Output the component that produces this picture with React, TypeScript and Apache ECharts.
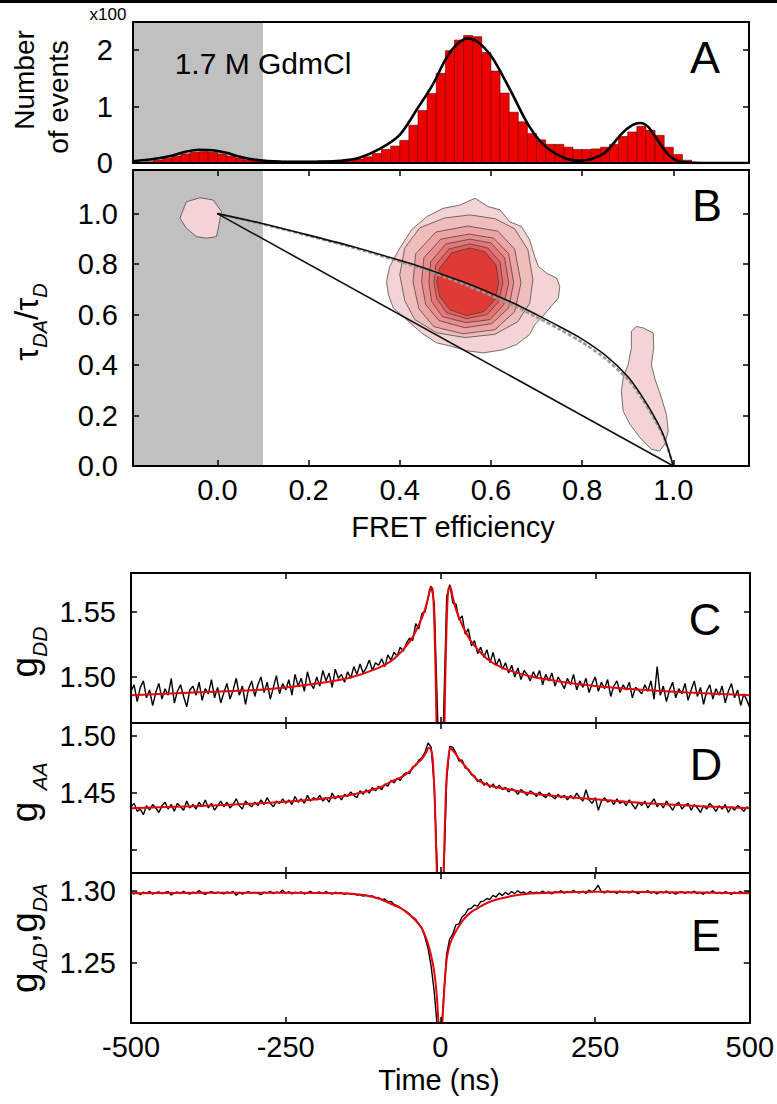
import React, { useEffect, useRef } from 'react';
import * as echarts from 'echarts';

const FONT = '"Liberation Sans", Arial, Helvetica, sans-serif';

// ---------- Panel A : FRET efficiency histogram (x100 events) ----------
const HIST_BIN_WIDTH = 0.02;
const HIST_CENTERS = [
  -0.15, -0.13, -0.11, -0.09, -0.07, -0.05, -0.03, -0.01, 0.01, 0.03,
  0.05, 0.07, 0.09, 0.11, 0.13, 0.15, 0.17, 0.19, 0.21, 0.23,
  0.25, 0.27, 0.29, 0.31, 0.33, 0.35, 0.37, 0.39, 0.41, 0.43,
  0.45, 0.47, 0.49, 0.51, 0.53, 0.55, 0.57, 0.59, 0.61, 0.63,
  0.65, 0.67, 0.69, 0.71, 0.73, 0.75, 0.77, 0.79, 0.81, 0.83,
  0.85, 0.87, 0.89, 0.91, 0.93, 0.95, 0.97, 0.99, 1.01, 1.03,
];
const HIST_COUNTS = [
  0.02, 0.05, 0.08, 0.12, 0.16, 0.19, 0.20, 0.19, 0.16, 0.12,
  0.08, 0.05, 0.04, 0.04, 0.04, 0.03, 0.03, 0.03, 0.03, 0.04,
  0.04, 0.04, 0.05, 0.07, 0.11, 0.17, 0.24, 0.30, 0.40, 0.67,
  0.93, 1.23, 1.59, 1.99, 2.18, 2.26, 2.24, 1.96, 1.63, 1.24,
  0.90, 0.73, 0.52, 0.41, 0.33, 0.33, 0.28, 0.24, 0.24, 0.25,
  0.28, 0.33, 0.47, 0.55, 0.65, 0.58, 0.49, 0.28, 0.15, 0.05,
];
const HIST_FIT = [
  [-0.185, 0.03], [-0.14, 0.07], [-0.1, 0.13], [-0.07, 0.2], [-0.04, 0.235], [-0.01, 0.225],
  [0.02, 0.18], [0.05, 0.11], [0.08, 0.06], [0.11, 0.035], [0.16, 0.02], [0.22, 0.02],
  [0.27, 0.04], [0.31, 0.09], [0.356, 0.25], [0.40, 0.5], [0.44, 0.98], [0.473, 1.4],
  [0.502, 1.86], [0.525, 2.1], [0.548, 2.21], [0.572, 2.14], [0.60, 1.9], [0.625, 1.56],
  [0.647, 1.22], [0.684, 0.65], [0.72, 0.29], [0.764, 0.08], [0.793, 0.04], [0.82, 0.07],
  [0.851, 0.19], [0.887, 0.52], [0.91, 0.67], [0.928, 0.71], [0.945, 0.64], [0.961, 0.46],
  [0.99, 0.14], [1.018, 0.02], [1.06, 0.0], [1.166, 0.0],
];
const FRET_MIN = -0.185;
const FRET_MAX = 1.166;
const SHADE_RANGE = [FRET_MIN, 0.1];
const A_Y_TICKS = [0, 1, 2];

// ---------- Panel B : tau_DA/tau_D vs FRET efficiency ----------
const STATIC_LINE = [[0, 1], [1, 0]];
const DYNAMIC_LINE = [
  [0, 1], [0.1, 0.96], [0.2, 0.915], [0.3, 0.868], [0.4, 0.815], [0.45, 0.787], [0.5, 0.755],
  [0.55, 0.722], [0.6, 0.685], [0.65, 0.645], [0.7, 0.6], [0.75, 0.553], [0.8, 0.503],
  [0.85, 0.44], [0.9, 0.355], [0.93, 0.28], [0.96, 0.19], [0.98, 0.115], [1, 0],
];
const DYNAMIC_LINE_ALT = [
  [0, 1], [0.1, 0.958], [0.2, 0.912], [0.3, 0.864], [0.4, 0.81], [0.45, 0.781], [0.5, 0.748],
  [0.55, 0.714], [0.6, 0.676], [0.65, 0.635], [0.7, 0.59], [0.75, 0.542], [0.8, 0.49],
  [0.85, 0.427], [0.9, 0.343], [0.93, 0.27], [0.96, 0.18], [0.98, 0.11], [1, 0],
];
const BLOB_ZERO = [
  [-0.082, 0.982], [-0.068, 1.047], [-0.038, 1.063], [-0.009, 1.054], [0.009, 1.008],
  [0.002, 0.942], [-0.002, 0.909], [-0.024, 0.903], [-0.046, 0.909], [-0.068, 0.942],
];
const BLOB_HIGH = [
  [0.908, 0.534], [0.919, 0.553], [0.934, 0.547], [0.956, 0.527], [0.957, 0.468], [0.952, 0.402],
  [0.959, 0.349], [0.974, 0.27], [0.985, 0.204], [0.989, 0.138], [0.981, 0.086], [0.97, 0.059],
  [0.952, 0.066], [0.927, 0.112], [0.905, 0.165], [0.89, 0.217], [0.886, 0.296], [0.89, 0.349],
  [0.901, 0.402], [0.908, 0.468],
];
const MAIN_LEVEL1 = [
  [0.371, 0.731], [0.378, 0.791], [0.4, 0.863], [0.426, 0.936], [0.459, 0.988], [0.495, 1.021],
  [0.532, 1.034], [0.565, 1.061], [0.594, 1.028], [0.62, 1.015], [0.641, 0.968], [0.667, 0.949],
  [0.685, 0.896], [0.696, 0.83], [0.704, 0.791], [0.722, 0.764], [0.744, 0.745], [0.751, 0.711],
  [0.748, 0.666], [0.729, 0.626], [0.711, 0.587], [0.696, 0.56], [0.685, 0.521], [0.656, 0.481],
  [0.627, 0.461], [0.583, 0.448], [0.546, 0.457], [0.514, 0.474], [0.481, 0.488], [0.448, 0.527],
  [0.415, 0.58], [0.386, 0.626], [0.375, 0.679],
];
const MAIN_LEVEL2 = [
  [0.411, 0.864], [0.444, 0.944], [0.499, 0.983], [0.554, 0.995], [0.609, 0.98], [0.652, 0.94],
  [0.681, 0.857], [0.692, 0.738], [0.685, 0.645], [0.659, 0.572], [0.609, 0.522], [0.543, 0.509],
  [0.481, 0.528], [0.433, 0.58], [0.411, 0.655], [0.4, 0.758],
];
const MAIN_LEVEL3 = [
  [0.435, 0.841], [0.479, 0.927], [0.549, 0.951], [0.615, 0.931], [0.652, 0.86], [0.666, 0.726],
  [0.652, 0.611], [0.609, 0.54], [0.539, 0.524], [0.475, 0.552], [0.442, 0.623], [0.429, 0.73],
];
const MAIN_LEVEL4 = [
  [0.453, 0.825], [0.49, 0.899], [0.552, 0.919], [0.606, 0.903], [0.639, 0.841], [0.65, 0.726],
  [0.639, 0.627], [0.602, 0.564], [0.543, 0.548], [0.486, 0.576], [0.457, 0.639], [0.448, 0.73],
];
const MAIN_LEVEL5 = [
  [0.468, 0.809], [0.501, 0.88], [0.554, 0.899], [0.6, 0.884], [0.63, 0.825], [0.639, 0.726],
  [0.628, 0.639], [0.598, 0.58], [0.545, 0.568], [0.494, 0.592], [0.47, 0.651], [0.464, 0.73],
];
const MAIN_LEVEL6 = [
  [0.479, 0.797], [0.508, 0.86], [0.554, 0.88], [0.593, 0.864], [0.62, 0.809], [0.626, 0.726],
  [0.617, 0.651], [0.591, 0.6], [0.547, 0.584], [0.503, 0.607], [0.481, 0.663], [0.475, 0.73],
];
const MAIN_CORE = [
  [0.488, 0.786], [0.514, 0.845], [0.554, 0.864], [0.587, 0.849], [0.611, 0.797], [0.617, 0.726],
  [0.609, 0.659], [0.584, 0.611], [0.547, 0.596], [0.51, 0.619], [0.488, 0.671], [0.481, 0.73],
];
const CONTOUR_POLYGONS = [
  BLOB_ZERO, BLOB_HIGH, MAIN_LEVEL1, MAIN_LEVEL2, MAIN_LEVEL3, MAIN_LEVEL4, MAIN_LEVEL5, MAIN_LEVEL6, MAIN_CORE,
];
const CONTOUR_LEVEL = [0, 0, 0, 1, 2, 3, 4, 5, 6];
const LEVEL_COLORS = ['#f3d3d3', '#f0bdbd', '#eda4a4', '#ea8d8d', '#e67676', '#e35e5e', '#de3b36'];
const FRET_TICKS = [0, 0.2, 0.4, 0.6, 0.8, 1.0];
const B_Y_TICKS = [0, 0.2, 0.4, 0.6, 0.8, 1.0];
const B_Y_MAX = 1.173;

// ---------- Panels C, D, E : correlation functions ----------
const TIME_START = -500;
const TIME_STEP = 5;
const TIME_TICKS = [-500, -250, 0, 250, 500];

const GDD_DATA = [
  1.489, 1.494, 1.481, 1.492, 1.497, 1.484, 1.490, 1.478, 1.488, 1.495,
  1.483, 1.491, 1.486, 1.499, 1.480, 1.489, 1.494, 1.485, 1.477, 1.490,
  1.493, 1.486, 1.496, 1.482, 1.491, 1.487, 1.498, 1.484, 1.492, 1.480,
  1.488, 1.495, 1.483, 1.490, 1.499, 1.486, 1.493, 1.479, 1.491, 1.497,
  1.485, 1.494, 1.500, 1.488, 1.496, 1.483, 1.492, 1.501, 1.487, 1.495,
  1.490, 1.498, 1.486, 1.502, 1.493, 1.499, 1.489, 1.504, 1.495, 1.491,
  1.500, 1.493, 1.505, 1.497, 1.503, 1.492, 1.506, 1.499, 1.502, 1.496,
  1.504, 1.499, 1.508, 1.502, 1.510, 1.503, 1.507, 1.513, 1.505, 1.511,
  1.509, 1.514, 1.508, 1.517, 1.513, 1.519, 1.516, 1.523, 1.520, 1.526,
  1.530, 1.528, 1.541, 1.537, 1.549, 1.550, 1.561, 1.570, 1.556, 1.475,
  1.400,
  1.470, 1.562, 1.571, 1.557, 1.556, 1.544, 1.547, 1.533, 1.537, 1.524,
  1.528, 1.518, 1.523, 1.515, 1.521, 1.511, 1.519, 1.509, 1.514, 1.506,
  1.511, 1.503, 1.509, 1.500, 1.507, 1.498, 1.505, 1.502, 1.497, 1.504,
  1.499, 1.505, 1.494, 1.502, 1.497, 1.503, 1.493, 1.500, 1.496, 1.491,
  1.499, 1.494, 1.502, 1.490, 1.497, 1.492, 1.499, 1.488, 1.495, 1.500,
  1.489, 1.496, 1.491, 1.498, 1.485, 1.493, 1.497, 1.488, 1.494, 1.490,
  1.496, 1.484, 1.492, 1.490, 1.487, 1.494, 1.489, 1.497, 1.483, 1.508,
  1.486, 1.493, 1.481, 1.490, 1.496, 1.484, 1.491, 1.487, 1.495, 1.482,
  1.490, 1.497, 1.485, 1.492, 1.479, 1.489, 1.494, 1.483, 1.491, 1.486,
  1.493, 1.480, 1.489, 1.495, 1.484, 1.490, 1.478, 1.487, 1.482, 1.476,
];
const GDD_FIT = [
  [-500, 1.486], [-400, 1.488], [-300, 1.49], [-250, 1.492], [-200, 1.495], [-150, 1.499],
  [-100, 1.507], [-75, 1.514], [-50, 1.527], [-35, 1.54], [-25, 1.552], [-19, 1.563],
  [-16, 1.569], [-13, 1.568], [-11, 1.555], [-9, 1.525], [-7, 1.48], [-5, 1.42], [0, 1.3],
  [5, 1.42], [7, 1.48], [9, 1.525], [11, 1.555], [13, 1.568], [16, 1.569], [19, 1.563],
  [25, 1.552], [35, 1.54], [50, 1.527], [75, 1.514], [100, 1.507], [150, 1.5], [200, 1.496],
  [250, 1.493], [300, 1.491], [400, 1.488], [500, 1.486],
];
const C_Y_RANGE = [1.4646, 1.58];
const C_Y_TICKS = [1.5, 1.55];

const GAA_DATA = [
  1.438, 1.441, 1.434, 1.436, 1.431, 1.439, 1.435, 1.440, 1.437, 1.433,
  1.439, 1.442, 1.436, 1.440, 1.434, 1.441, 1.438, 1.435, 1.443, 1.437,
  1.440, 1.436, 1.442, 1.438, 1.444, 1.437, 1.441, 1.435, 1.439, 1.443,
  1.438, 1.442, 1.437, 1.440, 1.445, 1.439, 1.436, 1.443, 1.440, 1.438,
  1.442, 1.439, 1.444, 1.440, 1.446, 1.441, 1.438, 1.443, 1.441, 1.445,
  1.441, 1.444, 1.440, 1.447, 1.442, 1.445, 1.441, 1.448, 1.443, 1.446,
  1.444, 1.448, 1.443, 1.446, 1.442, 1.450, 1.445, 1.448, 1.444, 1.449,
  1.447, 1.451, 1.448, 1.446, 1.452, 1.449, 1.453, 1.450, 1.455, 1.452,
  1.456, 1.453, 1.458, 1.456, 1.461, 1.459, 1.463, 1.461, 1.466, 1.468,
  1.467, 1.473, 1.474, 1.479, 1.481, 1.486, 1.494, 1.490, 1.455, 1.380,
  1.300,
  1.372, 1.462, 1.491, 1.490, 1.485, 1.478, 1.479, 1.472, 1.471, 1.466,
  1.465, 1.460, 1.462, 1.457, 1.459, 1.455, 1.458, 1.454, 1.457, 1.453,
  1.455, 1.451, 1.454, 1.452, 1.449, 1.453, 1.451, 1.448, 1.452, 1.450,
  1.447, 1.451, 1.448, 1.446, 1.450, 1.447, 1.445, 1.449, 1.446, 1.448,
  1.444, 1.448, 1.445, 1.450, 1.446, 1.443, 1.453, 1.444, 1.441, 1.446,
  1.435, 1.443, 1.446, 1.442, 1.444, 1.440, 1.445, 1.441, 1.443, 1.439,
  1.444, 1.440, 1.436, 1.442, 1.439, 1.443, 1.437, 1.441, 1.445, 1.438,
  1.441, 1.437, 1.443, 1.439, 1.435, 1.440, 1.442, 1.436, 1.439, 1.441,
  1.435, 1.440, 1.437, 1.433, 1.439, 1.436, 1.441, 1.438, 1.434, 1.439,
  1.436, 1.440, 1.433, 1.438, 1.435, 1.439, 1.437, 1.434, 1.438, 1.436,
];
const GAA_FIT = [
  [-500, 1.4368], [-400, 1.4385], [-300, 1.4408], [-250, 1.4424], [-200, 1.4445], [-150, 1.4478],
  [-100, 1.4545], [-80, 1.46], [-65, 1.4635], [-50, 1.469], [-40, 1.475], [-30, 1.48],
  [-24, 1.485], [-19, 1.4895], [-16, 1.489], [-13, 1.482], [-11, 1.465], [-9, 1.44], [-7, 1.4],
  [0, 1.3], [6, 1.4], [8, 1.44], [10, 1.465], [13, 1.482], [16, 1.4895], [19, 1.488],
  [25, 1.484], [30, 1.48], [40, 1.4735], [50, 1.467], [60, 1.4614], [80, 1.4565], [117, 1.4526],
  [150, 1.4495], [225, 1.4456], [333, 1.4412], [420, 1.4385], [500, 1.4368],
];
const D_Y_RANGE = [1.38, 1.5114];
const D_Y_TICKS = [1.4, 1.45, 1.5];
const D_Y_LABELS = [1.45, 1.5];

const GAD_DATA = [
  1.2995, 1.2980, 1.2990, 1.2975, 1.2992, 1.2983, 1.2998, 1.2978, 1.2988, 1.2994,
  1.2981, 1.2990, 1.2996, 1.2972, 1.2987, 1.2993, 1.2982, 1.2997, 1.2985, 1.2978,
  1.2991, 1.2984, 1.3003, 1.2986, 1.2976, 1.2989, 1.2995, 1.2983, 1.2992, 1.2987,
  1.2980, 1.2993, 1.2986, 1.2997, 1.2970, 1.2990, 1.2978, 1.2988, 1.2995, 1.2984,
  1.2990, 1.2983, 1.2975, 1.2992, 1.2986, 1.2998, 1.2981, 1.2993, 1.2987, 1.3006,
  1.2984, 1.2996, 1.2980, 1.2991, 1.2985, 1.2994, 1.2979, 1.2989, 1.2997, 1.2983,
  1.2988, 1.2993, 1.2982, 1.2995, 1.2986, 1.2979, 1.2991, 1.2984, 1.2989, 1.2976,
  1.2985, 1.2978, 1.2983, 1.2971, 1.2976, 1.2965, 1.2972, 1.2960, 1.2966, 1.2952,
  1.2955, 1.2940, 1.2944, 1.2925, 1.2928, 1.2907, 1.2899, 1.2885, 1.2870, 1.2858,
  1.2840, 1.2820, 1.2803, 1.2772, 1.2745, 1.2680, 1.2600, 1.2480, 1.2300, 1.2050,
  1.1900,
  1.2250, 1.2560, 1.2668, 1.2700, 1.2765, 1.2772, 1.2820, 1.2838, 1.2875, 1.2880,
  1.2902, 1.2895, 1.2925, 1.2930, 1.2948, 1.2942, 1.2970, 1.2958, 1.2985, 1.2968,
  1.2990, 1.2975, 1.2996, 1.2982, 1.3001, 1.2987, 1.2993, 1.2979, 1.2998, 1.2986,
  1.2992, 1.2984, 1.2999, 1.2987, 1.2994, 1.2980, 1.2996, 1.2989, 1.3002, 1.2985,
  1.2997, 1.2988, 1.3004, 1.2991, 1.2986, 1.2999, 1.2983, 1.3006, 1.2992, 1.3010,
  1.3040, 1.2994, 1.2987, 1.3001, 1.2990, 1.2996, 1.2983, 1.2999, 1.2989, 1.2995,
  1.2986, 1.3000, 1.2991, 1.2982, 1.2997, 1.2988, 1.3003, 1.2985, 1.2993, 1.2980,
  1.2995, 1.2987, 1.2999, 1.2984, 1.2992, 1.2978, 1.2990, 1.2996, 1.2983, 1.2994,
  1.2987, 1.2999, 1.2982, 1.2991, 1.2977, 1.2993, 1.2986, 1.3001, 1.2984, 1.2990,
  1.2981, 1.2995, 1.2988, 1.2976, 1.2992, 1.2985, 1.2998, 1.2983, 1.2991, 1.2996,
];
const GAD_FIT = [
  [-500, 1.2985], [-300, 1.2988], [-200, 1.2986], [-150, 1.2982], [-120, 1.2968], [-100, 1.2948],
  [-80, 1.291], [-65, 1.2882], [-50, 1.2835], [-40, 1.2795], [-30, 1.274], [-22, 1.266],
  [-15, 1.255], [-10, 1.244], [-6, 1.228], [-3, 1.208], [0, 1.19], [3, 1.208], [6, 1.23],
  [10, 1.252], [14, 1.261], [18, 1.266], [25, 1.272], [37, 1.2799], [50, 1.2855], [64, 1.2891],
  [80, 1.2925], [101, 1.2951], [120, 1.2968], [145, 1.2982], [200, 1.2992], [250, 1.2995],
  [350, 1.2992], [500, 1.2985],
];
const E_Y_RANGE = [1.2083, 1.3125];
const E_Y_TICKS = [1.25, 1.3];

// ---------- helpers (layout / style only) ----------
const AXIS_LINE = { show: true, onZero: false, lineStyle: { color: '#000', width: 2 } };
const TICK_LINE = { color: '#000', width: 1.5 };
const LABEL_TEXT = { color: '#000', fontSize: 29, fontFamily: FONT };

function tick(values: number[]) {
  return values.length
    ? { show: true, inside: true, length: 6, lineStyle: TICK_LINE, customValues: values }
    : { show: false };
}

function xAxes(gi: number, min: number, max: number, ticks: number[], labels: number[], fmt?: (v: number) => string) {
  const base = { type: 'value', gridIndex: gi, min, max, z: 5, splitLine: { show: false }, axisLine: AXIS_LINE };
  return [
    {
      ...base, position: 'bottom', axisTick: tick(ticks),
      axisLabel: labels.length ? { show: true, customValues: labels, formatter: fmt, margin: 9, ...LABEL_TEXT } : { show: false },
    },
    { ...base, position: 'top', axisTick: tick(ticks), axisLabel: { show: false } },
  ];
}

function yAxes(gi: number, min: number, max: number, ticks: number[], labels: number[], fmt: (v: number) => string, margin: number) {
  const base = { type: 'value', gridIndex: gi, min, max, z: 5, splitLine: { show: false }, axisLine: AXIS_LINE };
  return [
    {
      ...base, position: 'left', axisTick: tick(ticks),
      axisLabel: { show: true, customValues: labels, formatter: fmt, margin, ...LABEL_TEXT },
    },
    { ...base, position: 'right', axisTick: tick(ticks.filter((t) => t > min)), axisLabel: { show: false } },
  ];
}

function timeSeries(values: number[]) {
  return values.map((v, i) => [TIME_START + TIME_STEP * i, v]);
}

function subTitle(text: string, x: number, y: number, main: number, sub: number) {
  return {
    type: 'text', x, y, rotation: Math.PI / 2, z: 10,
    style: {
      text,
      textAlign: 'center', textVerticalAlign: 'middle', align: 'center', verticalAlign: 'middle',
      fill: '#000',
      rich: {
        n: { fontSize: main, fontFamily: FONT, fill: '#000', lineHeight: main + 14, verticalAlign: 'middle' },
        s: { fontSize: sub, fontFamily: FONT, fontStyle: 'italic', fill: '#000', lineHeight: sub, verticalAlign: 'bottom' },
      },
    },
  };
}

function plainText(text: string, x: number, y: number, size: number, rotation = 0) {
  return {
    type: 'text', x, y, rotation, z: 10,
    style: {
      text, fontSize: size, fontFamily: FONT, fill: '#000',
      textAlign: 'center', textVerticalAlign: 'middle', align: 'center', verticalAlign: 'middle',
    },
  };
}

function buildOption() {
  const fmt0 = (v: number) => String(Math.round(v));
  const fmt1 = (v: number) => v.toFixed(1);
  const fmt2 = (v: number) => v.toFixed(2);
  const grey = { silent: true, itemStyle: { color: '#c0c0c0' }, data: [[{ xAxis: SHADE_RANGE[0] }, { xAxis: SHADE_RANGE[1] }]] };

  return {
    animation: false,
    backgroundColor: '#fff',
    grid: [
      { left: 133, top: 22, width: 616, height: 141 },
      { left: 133, top: 170, width: 616, height: 296 },
      { left: 131, top: 573, width: 619, height: 150 },
      { left: 131, top: 723, width: 619, height: 150 },
      { left: 131, top: 873, width: 619, height: 150 },
    ],
    xAxis: [
      ...xAxes(0, FRET_MIN, FRET_MAX, [], []),
      ...xAxes(1, FRET_MIN, FRET_MAX, FRET_TICKS, FRET_TICKS, fmt1),
      ...xAxes(2, TIME_TICKS[0], TIME_TICKS[4], TIME_TICKS, []),
      ...xAxes(3, TIME_TICKS[0], TIME_TICKS[4], TIME_TICKS, []),
      ...xAxes(4, TIME_TICKS[0], TIME_TICKS[4], TIME_TICKS, TIME_TICKS, fmt0),
    ],
    yAxis: [
      ...yAxes(0, 0, 2.5, A_Y_TICKS, A_Y_TICKS, fmt0, 20),
      ...yAxes(1, 0, B_Y_MAX, B_Y_TICKS, B_Y_TICKS, fmt1, 15),
      ...yAxes(2, C_Y_RANGE[0], C_Y_RANGE[1], C_Y_TICKS, C_Y_TICKS, fmt2, 15),
      ...yAxes(3, D_Y_RANGE[0], D_Y_RANGE[1], D_Y_TICKS, D_Y_LABELS, fmt2, 15),
      ...yAxes(4, E_Y_RANGE[0], E_Y_RANGE[1], E_Y_TICKS, E_Y_TICKS, fmt2, 15),
    ],
    series: [
      // ---- A
      {
        type: 'custom', name: 'histogram', xAxisIndex: 0, yAxisIndex: 0, z: 2,
        data: HIST_CENTERS.map((c, i) => [c, HIST_COUNTS[i]]),
        renderItem: (_p: any, api: any) => {
          const x = api.value(0);
          const y = api.value(1);
          const p0 = api.coord([x - HIST_BIN_WIDTH / 2, y]);
          const p1 = api.coord([x + HIST_BIN_WIDTH / 2, 0]);
          return {
            type: 'rect',
            shape: { x: p0[0], y: p0[1], width: p1[0] - p0[0], height: p1[1] - p0[1] },
            style: { fill: '#ec0000', stroke: '#6b0000', lineWidth: 0.6 },
          };
        },
      },
      {
        type: 'line', name: 'fitA', xAxisIndex: 0, yAxisIndex: 0, z: 3, data: HIST_FIT,
        smooth: 0.3, showSymbol: false, lineStyle: { color: '#000', width: 2.6 }, markArea: grey,
      },
      // ---- B
      {
        type: 'line', name: 'static', xAxisIndex: 2, yAxisIndex: 2, z: 4, data: STATIC_LINE,
        showSymbol: false, lineStyle: { color: '#111', width: 1.6 }, markArea: grey,
      },
      {
        type: 'custom', name: 'contours', xAxisIndex: 2, yAxisIndex: 2, z: 2,
        data: CONTOUR_POLYGONS.map((poly, i) => [poly[0][0], poly[0][1], i]),
        renderItem: (params: any, api: any) => {
          const poly = CONTOUR_POLYGONS[params.dataIndex];
          return {
            type: 'polygon',
            shape: { points: poly.map((p) => api.coord(p)) },
            style: { fill: LEVEL_COLORS[CONTOUR_LEVEL[params.dataIndex]], stroke: '#3a3a3a', lineWidth: 0.7 },
          };
        },
      },
      {
        type: 'line', name: 'dynamicAlt', xAxisIndex: 2, yAxisIndex: 2, z: 3, data: DYNAMIC_LINE_ALT,
        smooth: 0.3, showSymbol: false, lineStyle: { color: '#9a9a9a', width: 2.5, type: [4, 2] },
      },
      {
        type: 'line', name: 'dynamic', xAxisIndex: 2, yAxisIndex: 2, z: 4, data: DYNAMIC_LINE,
        smooth: 0.3, showSymbol: false, lineStyle: { color: '#111', width: 1.6 },
      },
      // ---- C
      {
        type: 'line', name: 'gDD', xAxisIndex: 4, yAxisIndex: 4, z: 3, data: timeSeries(GDD_DATA),
        showSymbol: false, lineStyle: { color: '#000', width: 1.4 },
      },
      {
        type: 'line', name: 'gDDfit', xAxisIndex: 4, yAxisIndex: 4, z: 4, data: GDD_FIT,
        smooth: 0.3, showSymbol: false, lineStyle: { color: '#e8000b', width: 2 },
      },
      // ---- D
      {
        type: 'line', name: 'gAA', xAxisIndex: 6, yAxisIndex: 6, z: 3, data: timeSeries(GAA_DATA),
        showSymbol: false, lineStyle: { color: '#000', width: 1.4 },
      },
      {
        type: 'line', name: 'gAAfit', xAxisIndex: 6, yAxisIndex: 6, z: 4, data: GAA_FIT,
        smooth: 0.3, showSymbol: false, lineStyle: { color: '#e8000b', width: 2 },
      },
      // ---- E
      {
        type: 'line', name: 'gAD', xAxisIndex: 8, yAxisIndex: 8, z: 3, data: timeSeries(GAD_DATA),
        showSymbol: false, lineStyle: { color: '#000', width: 1.4 },
      },
      {
        type: 'line', name: 'gADfit', xAxisIndex: 8, yAxisIndex: 8, z: 4, data: GAD_FIT,
        smooth: 0.3, showSymbol: false, lineStyle: { color: '#e8000b', width: 2 },
      },
    ],
    graphic: [
      { type: 'rect', shape: { x: 0, y: 0, width: 777, height: 3 }, style: { fill: '#000' }, z: 10 },
      plainText('x100', 108, 14, 17),
      plainText('1.7 M GdmCl', 263, 63, 30),
      plainText('A', 705, 57, 45),
      plainText('B', 707, 205, 45),
      plainText('C', 705, 619, 45),
      plainText('D', 706, 764, 45),
      plainText('E', 706, 935, 45),
      plainText('Number', 24, 80, 28, Math.PI / 2),
      plainText('of events', 58, 97, 28, Math.PI / 2),
      subTitle('{n|τ}{s|DA}{n|/τ}{s|D}', 26, 322, 33, 20),
      subTitle('{n|g}{s|DD}', 24, 652, 37, 21),
      subTitle('{n|g}{s|  AA}', 24, 792, 37, 21),
      subTitle('{n|g}{s|AD}{n|,g}{s|DA}', 24, 938, 37, 21),
      plainText('FRET efficiency', 453, 527, 29),
      plainText('Time (ns)', 439, 1080, 29),
    ],
  };
}

export default function App() {
  const ref = useRef<HTMLDivElement>(null);
  useEffect(() => {
    document.body.style.margin = '0';
    const chart = echarts.init(ref.current as HTMLDivElement, null, { renderer: 'svg' });
    chart.setOption(buildOption() as any);
    return () => chart.dispose();
  }, []);
  return <div ref={ref} style={{ width: 777, height: 1104 }} />;
}
